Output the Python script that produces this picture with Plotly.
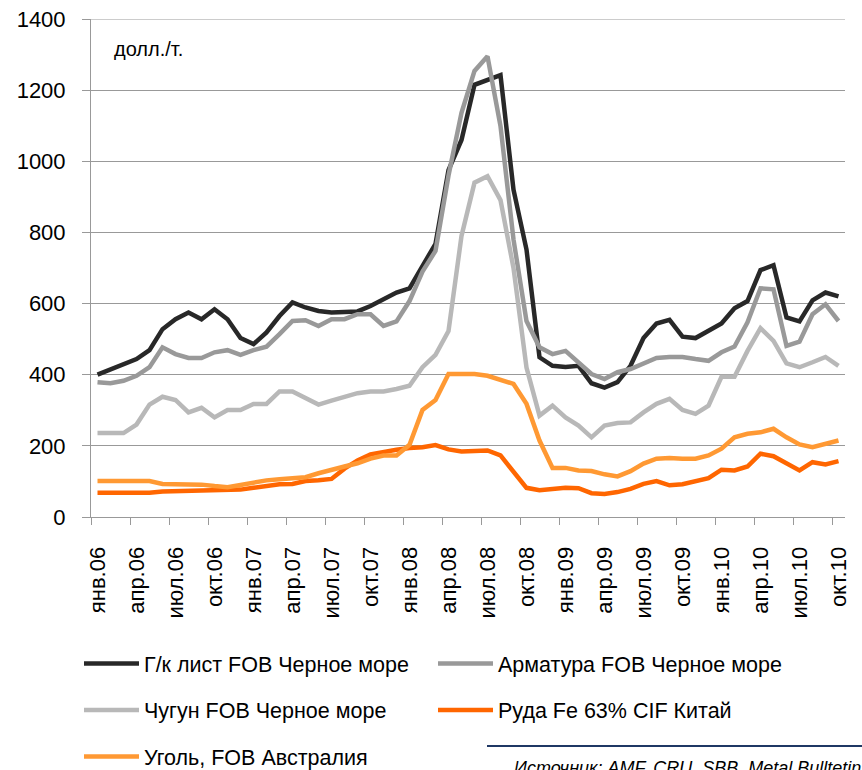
import plotly.graph_objects as go

# ---- data -------------------------------------------------------------
month_names = ["янв", "фев", "мар", "апр", "май", "июн",
               "июл", "авг", "сен", "окт", "ноя", "дек"]
years = ["06", "07", "08", "09", "10"]
categories = [f"{m}.{y}" for y in years for m in month_names][:58]  # янв.06 .. окт.10

hot_rolled = [400, 415, 427, 444, 469, 528, 556, 575, 556, 584, 556, 503,
              486, 519, 565, 603, 589, 579, 575, 575, 578, 593, 612, 631,
              643, 705, 768, 975, 1060, 1215, 1230, 1242, 920, 752, 449, 425,
              422, 425, 376, 364, 379, 425, 503, 544, 554, 507, 503, 523,
              544, 587, 607, 694, 708, 561, 550, 609, 631, 620]
rebar = [379, 376, 383, 397, 421, 477, 458, 447, 447, 463, 469, 456,
         469, 479, 514, 551, 553, 537, 556, 556, 570, 570, 537, 550,
         607, 690, 748, 960, 1136, 1254, 1295, 1099, 780, 551, 477, 458,
         467, 435, 402, 388, 407, 416, 430, 447, 450, 450, 444, 439,
         463, 479, 547, 643, 640, 481, 493, 570, 598, 551]
pig_iron = [236, 236, 236, 260, 316, 338, 329, 294, 307, 280, 301, 301,
            318, 318, 353, 353, 336, 316, 327, 338, 348, 353, 353, 360,
            369, 421, 456, 523, 790, 940, 958, 891, 700, 420, 285, 313,
            280, 257, 224, 257, 264, 266, 294, 318, 332, 301, 290, 313,
            394, 394, 467, 531, 495, 432, 421, 435, 450, 425]
ore = [68, 68, 70, 70, 68, 72, 73, 73, 73, 75, 75, 77,
       82, 88, 92, 93, 101, 103, 107, 136, 159, 176, 184, 189,
       194, 196, 202, 190, 184, 184, 187, 173, 126, 82, 75, 79,
       82, 81, 67, 65, 70, 79, 93, 101, 89, 92, 101, 109,
       133, 131, 142, 178, 171, 150, 131, 154, 148, 157]
coal = [101, 101, 101, 101, 101, 93, 93, 92, 91, 87, 84, 90,
        97, 103, 106, 109, 112, 123, 131, 142, 151, 164, 173, 173,
        203, 301, 329, 402, 402, 402, 397, 385, 374, 318, 215, 138,
        138, 131, 129, 120, 114, 129, 150, 164, 166, 164, 164, 173,
        192, 224, 234, 238, 248, 224, 204, 196, 204, 215]

series_names = ["Г/к лист FOB Черное море", "Арматура FOB Черное море",
                "Чугун FOB Черное море", "Руда Fe 63% CIF Китай",
                "Уголь, FOB Австралия"]
series_values = [hot_rolled, rebar, pig_iron, ore, coal]
series_colors = ["#282828", "#999999", "#b8b8b8", "#ff6600", "#ff9933"]
series_legend = ["legend", "legend2", "legend", "legend2", "legend"]

y_ticks = [0, 200, 400, 600, 800, 1000, 1200, 1400]

# ---- figure -----------------------------------------------------------
FONT = "Liberation Sans, Arial, sans-serif"
x_idx = list(range(len(categories)))

fig = go.Figure()
for name, vals, col, lg in zip(series_names, series_values, series_colors, series_legend):
    fig.add_trace(go.Scatter(
        x=x_idx, y=vals, mode="lines", name=name,
        line=dict(color=col, width=4.5),
        legend=lg, legendgroup=name,
        hoverinfo="skip",
    ))

label_idx = x_idx[::3]
L, T, W, H = 91, 19, 754, 498   # plot area in pixels


def px(xp):
    return (xp - L) / W


def py(yp):
    return (T + H - yp) / H


legend_common = dict(
    orientation="v", tracegroupgap=15.5, bgcolor="rgba(0,0,0,0)",
    itemwidth=55, yanchor="top", xanchor="left",
    font=dict(family=FONT, size=21.5, color="black"),
)

fig.update_layout(
    width=862, height=770,
    margin=dict(l=L, r=862 - L - W, t=T, b=770 - T - H, autoexpand=False),
    paper_bgcolor="white", plot_bgcolor="white",
    font=dict(family=FONT, size=22, color="black"),
    xaxis=dict(
        range=[-0.5, len(categories) - 0.5],
        tickmode="array", tickvals=label_idx,
        ticktext=[categories[i] for i in label_idx],
        tickangle=-90, ticks="", showgrid=False, zeroline=False,
        showline=True, linecolor="#999999", linewidth=1,
        ticklabelstandoff=20, automargin=False,
        tickfont=dict(family=FONT, size=22, color="black"),
        minor=dict(tickmode="array", tickvals=[i - 0.5 for i in label_idx],
                   ticks="outside", ticklen=7, tickwidth=1,
                   tickcolor="#999999", showgrid=False),
    ),
    yaxis=dict(
        range=[0, 1400], tickmode="array", tickvals=y_ticks,
        ticks="outside", ticklen=8, tickwidth=1, tickcolor="#999999",
        showline=True, linecolor="#999999", linewidth=1,
        showgrid=True, gridcolor="#999999", gridwidth=1, zeroline=False,
        ticklabelstandoff=12, automargin=False,
        tickfont=dict(family=FONT, size=22, color="black"),
    ),
    legend=dict(x=px(79), y=py(643), **legend_common),
    legend2=dict(x=px(433), y=py(643), **legend_common),
    showlegend=True,
    annotations=[
        dict(text="долл./т.", xref="paper", yref="paper",
             x=px(112), y=py(49), xanchor="left", yanchor="middle",
             showarrow=False, font=dict(family=FONT, size=20, color="black")),
        dict(text="<i>Источник: AMF, CRU, SBB, Metal Bulltetin</i>", xref="paper", yref="paper",
             x=px(512), y=py(756), xanchor="left", yanchor="top",
             showarrow=False, font=dict(family=FONT, size=18, color="black")),
    ],
    shapes=[
        dict(type="line", xref="paper", yref="y", x0=0, x1=1, y0=1400, y1=1400,
             line=dict(color="#999999", width=1), layer="below"),
        dict(type="line", xref="paper", yref="paper",
             x0=px(487), x1=px(870), y0=py(746), y1=py(746),
             line=dict(color="#1f3864", width=2)),
    ],
)

fig.write_html("out.html", config={"displayModeBar": False},
               post_script="document.body.style.margin='0';")
